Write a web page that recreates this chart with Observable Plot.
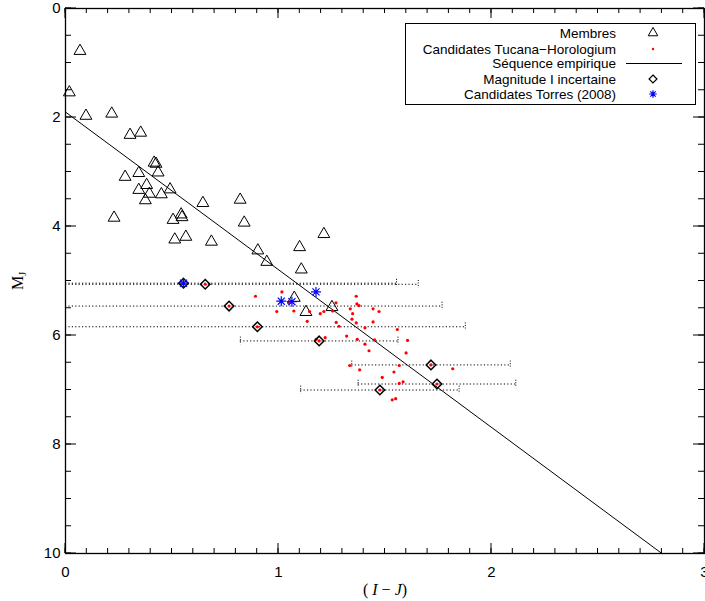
<!DOCTYPE html>
<html><head><meta charset="utf-8">
<script src="https://cdn.jsdelivr.net/npm/d3@7"></script>
<script src="https://cdn.jsdelivr.net/npm/@observablehq/plot@0.6"></script>
<style>body{margin:0;background:#fff} #chart{width:705px;height:601px}</style>
</head><body><div id="chart"></div>
<script>
// Members (triangles)
const membersX = [0.068,0.018,0.096,0.217,0.303,0.353,0.416,0.425,0.280,0.344,0.435,0.381,0.344,0.394,0.450,0.491,0.375,0.645,0.820,0.228,0.505,0.543,0.547,0.839,0.513,0.565,0.685,1.213,1.099,0.903,0.945,1.107,1.074,1.129,1.251];
const membersY = [0.78,1.54,1.97,1.93,2.32,2.28,2.83,2.85,3.09,3.02,3.01,3.24,3.33,3.40,3.41,3.32,3.52,3.57,3.51,3.84,3.88,3.78,3.83,3.93,4.24,4.19,4.28,4.14,4.38,4.44,4.65,4.79,5.31,5.57,5.48];
// Tucana-Horologium candidates (red dots)
const candX = [0.892,1.016,0.992,1.047,1.072,1.146,1.135,1.196,1.213,1.270,1.254,1.271,1.284,1.337,1.365,1.368,1.378,1.348,1.345,1.365,1.320,1.370,1.177,1.219,1.334,1.381,1.444,1.472,1.444,1.406,1.558,1.451,1.606,1.406,1.425,1.599,1.567,1.818,1.542,1.487,1.567,1.585,1.534,1.550,0.554,0.656,0.768,0.901,1.191,1.716,1.744,1.476];
const candY = [5.28,5.20,5.56,5.40,5.55,5.56,5.74,5.60,5.56,5.40,5.55,5.76,5.83,5.51,5.28,5.42,5.45,5.60,5.70,5.77,6.01,6.07,6.07,6.04,6.55,6.63,5.51,5.56,5.75,5.86,5.89,6.08,6.09,6.16,6.28,6.32,6.55,6.61,6.67,6.77,6.88,6.85,7.18,7.16,5.04,5.06,5.46,5.84,6.10,6.54,6.89,7.00];
// Uncertain I magnitude (diamonds) with error on (I-J)
const uncX = [0.554,0.656,0.768,0.901,1.191,1.716,1.744,1.476];
const uncY = [5.04,5.06,5.46,5.84,6.10,6.54,6.89,7.00];
const uncErr = [1.0,1.0,1.0,0.976,0.37,0.372,0.37,0.372];
// Torres (2008) candidates (asterisks)
const torresX = [0.554,1.013,1.063,1.176];
const torresY = [5.04,5.37,5.38,5.20];
// Empirical sequence
const seqX = [0, 2.8];
const seqY = [1.9, 10];
// Ticks
const xMajor = [0,1,2,3];
const xMinor = d3.range(0, 30.5, 1).map(d => d/10);
const yMajor = [0,2,4,6,8,10];
const yMinor = d3.range(0, 20.5, 1).map(d => d/2);
const legendLabels = ["Membres","Candidates Tucana\u2212Horologium","Séquence empirique","Magnitude I incertaine","Candidates Torres (2008)"];

const W = 705, H = 601, ML = 65, MR = 1, MT = 8, MB = 48;
const X0 = 0, X1 = 3, Y0 = 0, Y1 = 10;

const members = membersX.map((x,i)=>({x, y: membersY[i]}));
const cands = candX.map((x,i)=>({x, y: candY[i]}));
const unc = uncX.map((x,i)=>({x, y: uncY[i], e: uncErr[i]}));
const torres = torresX.map((x,i)=>({x, y: torresY[i]}));
const seq = seqX.map((x,i)=>({x, y: seqY[i]}));
const capsLo = unc.filter(d => d.x - d.e >= X0);
const capsHi = unc.filter(d => d.x + d.e <= X1);

const star8 = {draw(ctx, size){ const r = Math.sqrt(size/Math.PI); const d = r*Math.SQRT1_2;
  ctx.moveTo(-r,0);ctx.lineTo(r,0);ctx.moveTo(0,-r);ctx.lineTo(0,r);
  ctx.moveTo(-d,-d);ctx.lineTo(d,d);ctx.moveTo(-d,d);ctx.lineTo(d,-d);}};

const plot = Plot.plot({
  width: W, height: H,
  marginLeft: ML, marginRight: MR, marginTop: MT, marginBottom: MB,
  style: {fontFamily: "'Liberation Sans', Arial, sans-serif", fontSize: "15px", background: "white", color: "black"},
  x: {domain: [X0, X1]},
  y: {domain: [Y0, Y1], reverse: true},
  marks: [
    Plot.ruleY(unc, {y: "y", x1: d => Math.max(X0, d.x - d.e), x2: d => Math.min(X1, d.x + d.e), stroke: "black", strokeWidth: 1, strokeDasharray: "1.2,2.2"}),
    Plot.ruleX(capsLo, {x: d => d.x - d.e, y1: d => d.y - 0.07, y2: d => d.y + 0.07, stroke: "black", strokeDasharray: "1,1.5"}),
    Plot.ruleX(capsHi, {x: d => d.x + d.e, y1: d => d.y - 0.07, y2: d => d.y + 0.07, stroke: "black", strokeDasharray: "1,1.5"}),
    Plot.line(seq, {x: "x", y: "y", stroke: "black", strokeWidth: 1}),
    Plot.dot(members, {x: "x", y: "y", symbol: "triangle", r: 4.4, fill: "none", stroke: "black", strokeWidth: 1}),
    Plot.dot(cands, {x: "x", y: "y", r: 1.6, fill: "red", stroke: "none"}),
    Plot.dot(unc, {x: "x", y: "y", symbol: "diamond2", r: 4.3, fill: "none", stroke: "black", strokeWidth: 1.5}),
    Plot.dot(torres, {x: "x", y: "y", symbol: star8, r: 5, fill: "none", stroke: "blue", strokeWidth: 1.2}),
    Plot.axisX({anchor: "bottom", ticks: xMajor, tickFormat: d3.format("d"), tickSize: 0, tickPadding: 13, label: null, fontSize: 15}),
    Plot.axisY({anchor: "left", ticks: yMajor, tickFormat: d3.format("d"), tickSize: 0, tickPadding: 5, label: null, fontSize: 15}),
    Plot.frame({stroke: "black", strokeWidth: 1.3})
  ]
});
document.getElementById("chart").appendChild(plot);

const svg = d3.select(plot);
// Inward ticks on all four sides, placed with the chart's own x/y scales, drawn on top
const sX = plot.scale("x"), sY = plot.scale("y");
const xb = sY.apply(Y1), xt = sY.apply(Y0), yl0 = sX.apply(X0), yr0 = sX.apply(X1);
const tg = svg.append("g").attr("stroke", "black").attr("stroke-width", 1);
const addX = (vals, len) => vals.forEach(v => {
  const px = sX.apply(v);
  tg.append("line").attr("x1", px).attr("x2", px).attr("y1", xb).attr("y2", xb - len);
  tg.append("line").attr("x1", px).attr("x2", px).attr("y1", xt).attr("y2", xt + len);
});
const addY = (vals, len) => vals.forEach(v => {
  const py = sY.apply(v);
  tg.append("line").attr("y1", py).attr("y2", py).attr("x1", yl0).attr("x2", yl0 + len);
  tg.append("line").attr("y1", py).attr("y2", py).attr("x1", yr0).attr("x2", yr0 - len);
});
addX(xMinor, 5); addX(xMajor, 10);
addY(yMinor, 6); addY(yMajor, 11);

// x label
const xl = svg.append("text").attr("x", 385).attr("y", 595).attr("text-anchor", "middle")
  .style("font-family", "'Liberation Serif', 'Times New Roman', serif").style("font-size", "16px");
xl.append("tspan").text("( ");
xl.append("tspan").style("font-style", "italic").text("I");
xl.append("tspan").text(" \u2212 ");
xl.append("tspan").style("font-style", "italic").text("J");
xl.append("tspan").text(")");
// y label
const yl = svg.append("text").attr("transform", "translate(23,281) rotate(-90)").attr("text-anchor", "middle")
  .style("font-family", "'Liberation Serif', 'Times New Roman', serif").style("font-size", "16px");
yl.append("tspan").text("M");
yl.append("tspan").attr("dy", 3).style("font-size", "10px").text("J");

// legend
const lg = svg.append("g");
lg.append("rect").attr("x", 405.5).attr("y", 23.5).attr("width", 290).attr("height", 81)
  .attr("fill", "white").attr("stroke", "black").attr("stroke-width", 1);
const rowsY = [33, 49, 63.5, 79, 94];
legendLabels.forEach((t, i) => {
  lg.append("text").attr("x", 616).attr("y", rowsY[i]).attr("dy", "0.36em").attr("text-anchor", "end")
    .style("font-family", "'Liberation Sans', Arial, sans-serif").style("font-size", "13.5px").text(t);
});
const sx = 653;
lg.append("path").attr("transform", `translate(${sx},${rowsY[0]})`).attr("d", d3.symbol(d3.symbolTriangle, 40)())
  .attr("fill", "none").attr("stroke", "black");
lg.append("circle").attr("cx", sx).attr("cy", rowsY[1]).attr("r", 1.2).attr("fill", "red");
lg.append("line").attr("x1", 626).attr("x2", 682).attr("y1", rowsY[2]).attr("y2", rowsY[2]).attr("stroke", "black");
lg.append("path").attr("transform", `translate(${sx},${rowsY[3]})`).attr("d", d3.symbol(d3.symbolDiamond2, 40)())
  .attr("fill", "none").attr("stroke", "black").attr("stroke-width", 1.2);
lg.append("path").attr("transform", `translate(${sx},${rowsY[4]})`).attr("d", d3.symbol(star8, 45)())
  .attr("fill", "none").attr("stroke", "blue").attr("stroke-width", 1.2);
</script>
</body></html>
